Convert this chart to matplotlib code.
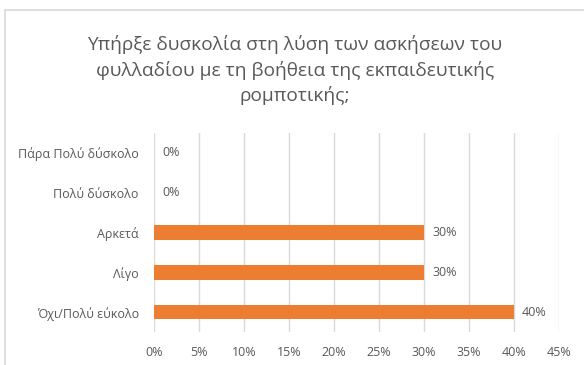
import numpy as np
from matplotlib import pyplot as plt
from matplotlib.patches import Rectangle

categories = ["Όχι/Πολύ εύκολο", "Λίγο", "Αρκετά", "Πολύ δύσκολο", "Πάρα Πολύ δύσκολο"]
values = [40, 30, 30, 0, 0]
ticks = [0, 5, 10, 15, 20, 25, 30, 35, 40, 45]
title = "Υπήρξε δυσκολία στη λύση των ασκήσεων του\nφυλλαδίου με τη βοήθεια της εκπαιδευτικής\nρομποτικής;"

plt.rcParams['font.family'] = ['Open Sans', 'DejaVu Sans']
text_color = '#595959'

fig = plt.figure(figsize=(5.84, 3.65), dpi=100)
fig.patches.append(Rectangle((5/584, -0.1), 1.0, 1 - 10/365 + 0.1, transform=fig.transFigure,
                             fill=False, edgecolor='#d9d9d9', linewidth=1.2))

ax = fig.add_axes([154/584, 1 - 332/365, 405/584, 199/365])
y = np.arange(len(categories))
ax.barh(y, values, height=0.37, color='#ED7D31', zorder=2)
for yi, v in zip(y, values):
    ax.text(v + 0.9, yi, f"{v}%", va='center', ha='left', fontsize=9, color=text_color)

ax.set_xlim(0, 45)
ax.set_ylim(-0.5, len(categories) - 0.5)
ax.set_xticks(ticks)
ax.set_xticklabels([f"{t}%" for t in ticks])
ax.set_yticks(y)
ax.set_yticklabels(categories)
ax.tick_params(length=0, labelsize=9, labelcolor=text_color)
ax.tick_params(axis='y', pad=11)
ax.tick_params(axis='x', pad=10)
ax.grid(axis='x', color='#d9d9d9', linewidth=1, zorder=0)
ax.set_axisbelow(True)
for s in ax.spines.values():
    s.set_visible(False)

fig.text(0.505, 1 - 70/365, title, ha='center', va='center', fontsize=13.8,
         color=text_color, linespacing=1.42)

fig.savefig('out.png', dpi=100)
